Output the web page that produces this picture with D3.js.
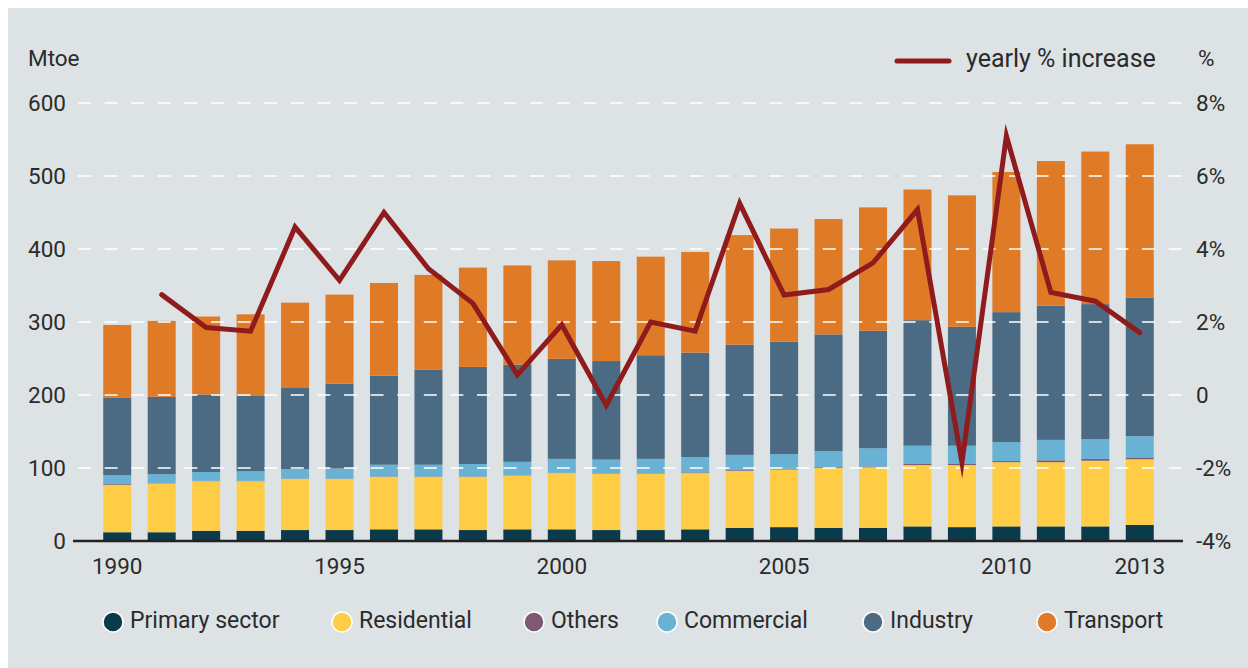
<!DOCTYPE html>
<html>
<head>
<meta charset="utf-8">
<script src="https://cdn.jsdelivr.net/npm/d3@7"></script>
<style>
  html, body { margin: 0; padding: 0; background: #ffffff; }
  svg { display: block; }
  text { font-family: Roboto, "Open Sans", sans-serif; fill: #2b2b2b; }
</style>
</head>
<body>
<svg id="chart" width="1248" height="668"></svg>
<script>
// data (Mtoe by sector, yearly % change)
var years = d3.range(1990, 2014);
var primarySector = [12, 12, 14, 14, 15, 15, 16, 16, 15, 16, 16, 15, 15, 16, 18, 19, 18, 18, 20, 19, 20, 20, 20, 22];
var residential   = [65, 67, 68, 68, 70, 70, 72, 72, 73, 74, 77, 77, 77, 77, 78, 79, 82, 83, 84, 85, 88, 88, 90, 90];
var others        = [1, 0.5, 0.5, 0.5, 0.5, 0.5, 0.5, 0.5, 0.5, 0.5, 0.5, 0.5, 0.5, 1, 1, 1, 1, 1, 1.5, 1.5, 1.5, 2.5, 2.5, 2.5];
var commercial    = [12, 12, 12, 13, 13, 14, 16, 16, 17, 18, 19, 19, 20, 21, 21, 20, 22, 25, 25, 25, 26, 28, 27, 29];
var industry      = [106, 106, 106, 104, 112, 116, 122, 130, 133, 133, 137, 135, 142, 143, 151, 154, 160, 161, 172, 163, 178, 184, 185, 190];
var transport     = [100, 104, 107, 111, 116, 122, 127, 130, 136, 136, 135, 137, 135, 138, 150, 155, 158, 169, 179, 180, 192, 198, 209, 210];
// yearly % increase, starts in 1991
var pctYears = d3.range(1991, 2014);
var pctIncrease = [2.75, 1.85, 1.75, 4.6, 3.14, 5.0, 3.46, 2.51, 0.55, 1.92, -0.28, 2.0, 1.75, 5.25, 2.74, 2.89, 3.62, 5.08, -1.85, 7.1, 2.81, 2.57, 1.71];

var sectorNames = ["Primary sector", "Residential", "Others", "Commercial", "Industry", "Transport"];
var sectorColors = ["#0b3b4b", "#fecd45", "#7d5a72", "#69b2d4", "#4b6a83", "#df7b27"];
var leftTicks = [0, 100, 200, 300, 400, 500, 600];
var rightTicks = [-4, -2, 0, 2, 4, 6, 8];
var yearTicks = [1990, 1995, 2000, 2005, 2010, 2013];

var svg = d3.select("#chart");

svg.append("rect")
    .attr("x", 8).attr("y", 8)
    .attr("width", 1240).attr("height", 660)
    .attr("fill", "#dde2e5");

var x = d3.scaleBand()
    .domain(years)
    .range([81, 1176])
    .paddingInner(0.37)
    .paddingOuter(0.5);
var y = d3.scaleLinear().domain([0, 600]).range([541, 103]);
var yPct = d3.scaleLinear().domain([-4, 8]).range([541, 103]);

// build stack table
var table = years.map(function(yr, i) {
    return {
        year: yr,
        "Primary sector": primarySector[i],
        "Residential": residential[i],
        "Others": others[i],
        "Commercial": commercial[i],
        "Industry": industry[i],
        "Transport": transport[i]
    };
});
var series = d3.stack().keys(sectorNames)(table);

svg.append("g")
    .selectAll("g")
    .data(series)
    .join("g")
    .attr("fill", function(d, i) { return sectorColors[i]; })
    .selectAll("rect")
    .data(function(d) { return d; })
    .join("rect")
    .attr("x", function(d) { return x(d.data.year); })
    .attr("width", x.bandwidth())
    .attr("y", function(d) { return y(d[1]); })
    .attr("height", function(d) { return y(d[0]) - y(d[1]); });

// dashed gridlines sit over the bars
svg.append("g")
    .selectAll("line")
    .data(leftTicks.filter(function(t) { return t > 0; }))
    .join("line")
    .attr("x1", 78).attr("x2", 1184)
    .attr("y1", function(d) { return y(d); })
    .attr("y2", function(d) { return y(d); })
    .attr("stroke", "#ffffff")
    .attr("stroke-width", 1.5)
    .attr("stroke-dasharray", "13,13.6");

// baseline
svg.append("line")
    .attr("x1", 73).attr("x2", 1183)
    .attr("y1", y(0)).attr("y2", y(0))
    .attr("stroke", "#222222")
    .attr("stroke-width", 2.5);

// axes
var leftAxis = svg.append("g")
    .attr("transform", "translate(66,0)")
    .call(d3.axisLeft(y).tickValues(leftTicks).tickSize(0).tickPadding(0));
var rightAxis = svg.append("g")
    .attr("transform", "translate(1196,0)")
    .call(d3.axisRight(yPct).tickValues(rightTicks).tickSize(0).tickPadding(0)
        .tickFormat(function(d) { return d === 0 ? "0" : d + "%"; }));
var bottomAxis = svg.append("g")
    .attr("transform", "translate(0," + y(0) + ")")
    .call(d3.axisBottom(x).tickValues(yearTicks).tickSize(0).tickPadding(17));

[leftAxis, rightAxis, bottomAxis].forEach(function(ax) {
    ax.select(".domain").remove();
    ax.selectAll("text")
        .attr("fill", "#2b2b2b")
        .style("font-family", "Roboto, sans-serif")
        .style("font-size", "22.5px");
});

svg.append("text").attr("x", 28).attr("y", 60)
    .attr("dominant-baseline", "middle")
    .style("font-size", "22.5px").text("Mtoe");
svg.append("text").attr("x", 1198).attr("y", 60)
    .attr("dominant-baseline", "middle")
    .style("font-size", "22.5px").text("%");

// yearly % line
var line = d3.line()
    .x(function(d, i) { return x(pctYears[i]) + x.bandwidth() / 2; })
    .y(function(d) { return yPct(d); });

svg.append("path")
    .datum(pctIncrease)
    .attr("d", line)
    .attr("fill", "none")
    .attr("stroke", "#8f1b1d")
    .attr("stroke-width", 5)
    .attr("stroke-linejoin", "miter")
    .attr("stroke-miterlimit", 10)
    .attr("stroke-linecap", "round");

// line legend
svg.append("line")
    .attr("x1", 897).attr("x2", 949)
    .attr("y1", 61).attr("y2", 61)
    .attr("stroke", "#8f1b1d")
    .attr("stroke-width", 5)
    .attr("stroke-linecap", "round");
svg.append("text").attr("x", 966).attr("y", 60)
    .attr("dominant-baseline", "middle")
    .style("font-size", "25px").text("yearly % increase");

// sector legend
var legendX = [113, 342, 534, 667, 873, 1047];
var legend = svg.append("g")
    .selectAll("g")
    .data(sectorNames)
    .join("g")
    .attr("transform", function(d, i) { return "translate(" + legendX[i] + ",622)"; });
legend.append("circle")
    .attr("r", 10)
    .attr("fill", function(d, i) { return sectorColors[i]; })
    .attr("stroke", "#ffffff")
    .attr("stroke-width", 1.5);
legend.append("text")
    .attr("x", 17)
    .attr("dominant-baseline", "middle")
    .style("font-size", "23px")
    .text(function(d) { return d; });
</script>
</body>
</html>
